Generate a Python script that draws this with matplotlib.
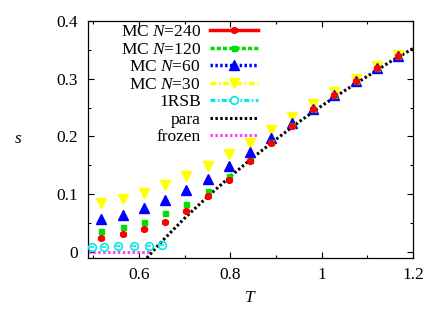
import matplotlib
matplotlib.use("Agg")
import matplotlib.pyplot as plt
from matplotlib.lines import Line2D

plt.rcParams["font.family"] = ["Liberation Serif", "DejaVu Serif"]
plt.rcParams["mathtext.fontset"] = "custom"
plt.rcParams["mathtext.rm"] = "Liberation Serif"
plt.rcParams["mathtext.it"] = "Liberation Serif:italic"

## data

T_mc = [0.517, 0.564, 0.610, 0.657, 0.703, 0.750, 0.796, 0.843,
        0.889, 0.936, 0.982, 1.028, 1.075, 1.121, 1.167]
s_n240 = [0.025, 0.031, 0.040, 0.052, 0.072, 0.097, 0.125, 0.157,
          0.189, 0.218, 0.247, 0.271, 0.296, 0.318, 0.339]
s_n120 = [0.036, 0.044, 0.053, 0.067, 0.084, 0.106, 0.132, 0.159,
          0.190, 0.219, 0.247, 0.272, 0.296, 0.318, 0.339]
s_n60 = [0.057, 0.065, 0.076, 0.090, 0.107, 0.127, 0.149, 0.173,
         0.198, 0.223, 0.247, 0.272, 0.295, 0.318, 0.339]
s_n30 = [0.085, 0.092, 0.103, 0.116, 0.132, 0.149, 0.170, 0.189,
         0.211, 0.233, 0.256, 0.277, 0.299, 0.321, 0.340]

T_1rsb = [0.497, 0.524, 0.553, 0.588, 0.622, 0.651]
s_1rsb = [0.009, 0.0095, 0.010, 0.011, 0.0115, 0.012]

T_para = [0.617, 0.65, 0.70, 0.75, 0.80, 0.85, 0.90, 0.95,
          1.00, 1.05, 1.10, 1.15, 1.20]
s_para = [-0.010, 0.019, 0.059, 0.096, 0.131, 0.164, 0.195, 0.225,
          0.253, 0.279, 0.304, 0.329, 0.352]

T_frozen = [0.488, 0.624]
s_frozen = [0.0, 0.0]

labels = ["MC $N$=240", "MC $N$=120", "MC $N$=60", "MC $N$=30",
          "1RSB", "para", "frozen"]

FS = 12.5

fig = plt.figure(figsize=(4.43, 3.10), dpi=100)
ax = fig.add_axes([88 / 443, 1 - 258 / 310, 325 / 443, 237.3 / 310])

# theory curves
ax.plot(T_frozen, s_frozen, color="#ff40ff", lw=2.2, ls=(0, (0.8, 0.8)),
        zorder=2)
ax.plot(T_para, s_para, color="black", lw=2.2, ls=(0, (0.8, 0.8)), zorder=2)

# 1RSB points: open circle with a dash
ax.plot(T_1rsb, s_1rsb, ls="none", marker="o", ms=5.5, mfc="none",
        mec="#00e8e8", mew=1.2, zorder=3)
ax.plot(T_1rsb, s_1rsb, ls="none", marker="_", ms=3.5, mec="#00e8e8",
        mew=1.2, zorder=3)

# MC points
ax.plot(T_mc, s_n30, ls="none", marker="v", ms=7, color="#ffff00",
        zorder=4)
ax.plot(T_mc, s_n60, ls="none", marker="^", ms=7, color="#0000ff",
        zorder=5)
ax.plot(T_mc, s_n120, ls="none", marker="s", ms=3.6, color="#00e000",
        zorder=6)
ax.plot(T_mc, s_n240, ls="none", marker=(6, 2, 0), ms=5, color="#ff0000",
        mew=2.0, zorder=7)

handles = [
    Line2D([], [], color="#ff0000", lw=2.5, ls="-", marker=(6, 2, 0),
           ms=5, mew=2.0),
    Line2D([], [], color="#00e000", lw=2.5, ls=(0, (1.2, 0.6)),
           marker="s", ms=3.6),
    Line2D([], [], color="#0000ff", lw=2.5, ls=(0, (0.7, 0.7)),
           marker="^", ms=7),
    Line2D([], [], color="#ffff00", lw=2.5, ls=(0, (1.6, 0.8, 0.5, 0.8)),
           marker="v", ms=7),
    Line2D([], [], color="#00e8e8", lw=2.2, ls=(0, (1.6, 0.8, 0.5, 0.8)),
           marker="o", ms=5.5, mfc="white", mew=1.2),
    Line2D([], [], color="black", lw=2.2, ls=(0, (0.8, 0.8))),
    Line2D([], [], color="#ff40ff", lw=2.2, ls=(0, (0.8, 0.8))),
]
ax.legend(handles, labels, loc="upper right", markerfirst=False,
          frameon=False, fontsize=FS, handlelength=2.75,
          handletextpad=0.55, labelspacing=0.08, borderpad=0,
          borderaxespad=0, numpoints=1,
          bbox_to_anchor=(258 / 443, 1 - 24 / 310),
          bbox_transform=fig.transFigure)

ax.set_xlim(0.488, 1.2)
ax.set_ylim(-0.01, 0.4)
ax.set_xticks([0.6, 0.8, 1.0, 1.2])
ax.set_xticklabels(["0.6", "0.8", "1", "1.2"])
ax.set_xticks([0.5, 0.7, 0.9, 1.1], minor=True)
ax.set_yticks([0, 0.1, 0.2, 0.3, 0.4])
ax.set_yticklabels(["0", "0.1", "0.2", "0.3", "0.4"])
ax.set_yticks([0.05, 0.15, 0.25, 0.35], minor=True)

ax.tick_params(which="both", direction="in", top=True, right=True,
               labelsize=FS, width=0.8)
ax.tick_params(which="major", length=4.5)
ax.tick_params(which="minor", length=2.5)
ax.tick_params(axis="x", pad=6.5)
ax.tick_params(axis="y", pad=7)

ax.set_xlabel("$T$", fontsize=FS, labelpad=5)
ax.set_ylabel("$s$", fontsize=FS, labelpad=28, rotation=0, va="center")

for sp in ax.spines.values():
    sp.set_linewidth(0.9)

fig.savefig("out.png", dpi=100)
